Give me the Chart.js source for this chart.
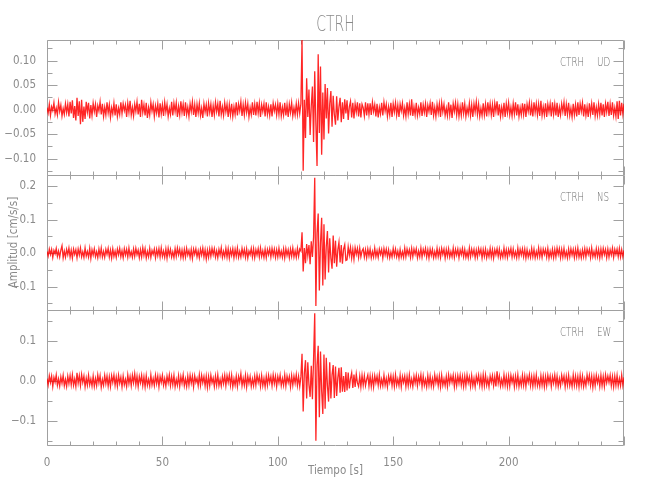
<!DOCTYPE html>
<html><head><meta charset="utf-8">
<script src="https://cdn.jsdelivr.net/npm/chart.js@4"></script>
<style>html,body{margin:0;padding:0;background:#fff;}canvas{display:block;}</style>
</head><body>
<canvas id="c" width="650" height="500"></canvas>
<script>
const station = 'CTRH';
const components = ['UD', 'NS', 'EW'];
const dt = 0.5; // sample interval [s]
const xLabelValues = [0, 50, 100, 150, 200];
const yLabelsUD = [-0.10, -0.05, 0.00, 0.05, 0.10];
const yLabelsNS = [-0.1, 0.0, 0.1, 0.2];
const yLabelsEW = [-0.1, 0.0, 0.1];

const udValues = [
.004,-.007,.011,-.012,.006,-.002,.014,-.009,.003,-.011,.015,-.004,.009,-.013,.002,-.010,.012,-.006,.011,-.014,
.016,-.008,.019,-.017,.007,-.022,.024,-.013,.017,-.030,.020,-.025,.006,-.019,.016,-.005,.014,-.018,.009,-.012,
.013,-.004,.011,-.015,.008,-.003,.016,-.010,.012,-.014,.005,-.011,.015,-.007,.010,-.016,.004,-.009,.013,-.012,
.011,-.014,.003,-.010,.015,-.008,.012,-.002,.010,-.015,.013,-.006,.018,-.011,.005,-.013,.011,-.004,.016,-.010,
.012,-.015,.020,-.006,.010,-.012,.014,-.017,.004,-.011,.015,-.003,.011,-.014,.008,-.007,.012,-.016,.013,-.009,
.010,-.013,.015,-.005,.011,-.014,.003,-.010,.016,-.012,.013,-.004,.014,-.015,.007,-.011,.017,-.006,.011,-.013,
.015,-.010,.005,-.014,.012,-.004,.016,-.011,.010,-.015,.011,-.007,.013,-.012,.003,-.017,.012,-.005,.010,-.014,
.013,-.006,.011,-.015,.008,-.011,.015,-.004,.012,-.014,.018,-.010,.006,-.012,.014,-.005,.011,-.015,.010,-.011,
.012,-.014,.006,-.010,.015,-.012,.011,-.003,.016,-.013,.010,-.011,.014,-.006,.012,-.015,.004,-.010,.015,-.011,
.011,-.012,.016,-.007,.013,-.015,.010,-.004,.012,-.014,.015,-.010,.006,-.012,.011,-.014,.013,-.003,.010,-.011,
.012,-.010,.015,-.013,.005,-.011,.014,-.012,.010,-.015,.011,-.006,.014,-.013,.004,-.011,.012,-.010,.013,-.008,
.012,.142,-.125,.020,-.058,.064,-.015,.041,-.052,.008,.047,-.066,.078,-.030,-.115,.113,-.048,.088,-.092,.035,
-.061,.052,-.018,.044,-.049,.012,.038,-.035,.028,-.010,-.031,.027,-.022,.006,.024,-.026,.015,-.019,.021,-.008,
.019,-.021,.006,.017,-.016,.014,-.018,.012,-.005,.015,-.014,.013,-.016,.011,.004,-.013,.015,-.012,.013,-.010,
.013,-.011,.015,-.004,.010,-.014,.012,-.016,.005,-.009,.014,-.012,.015,-.003,.011,-.014,.006,-.011,.014,-.015,
.012,-.005,.014,-.011,.009,-.015,.011,-.003,.013,-.012,.004,-.014,.015,-.009,.011,-.012,.021,-.013,.006,-.011,
.014,-.012,.004,-.009,.015,-.013,.010,-.006,.012,-.015,.009,-.004,.013,-.011,.016,-.012,.005,-.014,.011,-.007,
.012,-.015,.014,-.005,.011,-.012,.003,-.013,.015,-.011,.010,-.017,.012,-.004,.014,-.011,.011,-.014,.006,-.012,
.015,-.008,.012,-.014,.004,-.009,.013,-.012,.010,-.015,.012,-.005,.016,-.010,.011,-.014,.003,-.012,.013,-.011,
.011,-.014,.015,-.006,.012,-.011,.010,-.015,.013,-.004,.017,-.012,.011,-.014,.005,-.011,.014,-.015,.012,-.007,
.014,-.011,.005,-.013,.012,-.009,.015,-.012,.011,-.014,.004,-.011,.013,-.010,.012,-.015,.011,-.004,.014,-.012,
.010,-.014,.015,-.006,.012,-.011,.011,-.013,.018,-.012,.006,-.011,.013,-.015,.011,-.005,.012,-.014,.015,-.010,
.011,-.012,.014,-.015,.005,-.011,.012,-.004,.015,-.013,.011,-.010,.014,-.012,.003,-.015,.012,-.011,.010,-.014,
.015,-.011,.012,-.004,.014,-.014,.011,-.012,.006,-.015,.013,-.009,.012,-.011,.015,-.013,.005,-.012,.011,-.010,
.014,-.012,.011,-.015,.012,-.005,.016,-.013,.011,-.011,.015,-.012,.004,-.014,.017,-.019,.018,-.012,.014,-.009,
.012];

const nsValues = [
.005,-.009,.012,-.004,.011,-.013,.008,-.002,.014,-.010,.006,-.012,.009,.022,-.014,.006,-.012,.011,-.005,.015,
-.012,.009,-.015,.012,-.004,.010,-.014,.012,-.006,.015,-.011,.004,-.013,.015,-.009,.005,-.012,.014,-.016,.010,
-.006,.013,-.011,.004,-.014,.012,-.009,.015,-.012,.005,-.013,.011,-.004,.014,-.012,.009,-.015,.013,-.010,.006,
-.013,.012,-.005,.014,-.011,.007,-.014,.013,-.006,.011,-.012,.015,-.009,.004,-.013,.012,-.010,.014,-.005,.009,
-.014,.010,-.012,.016,-.007,.013,-.015,.005,-.011,.014,-.013,.008,-.004,.012,-.014,.011,-.008,.013,-.012,.015,
-.010,.006,-.013,.012,-.015,.014,-.007,.011,-.012,.004,-.014,.013,-.010,.015,-.005,.012,-.013,.009,-.014,.011,
-.012,.014,-.006,.008,-.013,.011,-.016,.012,-.004,.013,-.011,.007,-.014,.012,-.006,.015,-.012,.010,-.018,.009,
-.013,.012,-.010,.014,-.005,.013,-.012,.007,-.014,.011,-.006,.016,-.013,.005,-.011,.014,-.012,.013,-.015,.010,
-.007,.013,-.014,.011,-.010,.015,-.013,.005,-.012,.014,-.007,.011,-.013,.012,-.015,.006,-.005,.014,-.012,.013,
-.014,.010,-.006,.013,-.012,.015,-.010,.007,-.013,.012,-.014,.011,-.005,.013,-.012,.014,-.007,.012,-.013,.010,
-.012,.014,-.010,.006,-.013,.012,-.015,.013,-.007,.010,-.014,.012,-.010,.015,-.012,.007,-.013,.014,-.010,.012,
.006,.062,-.055,.015,-.030,.027,-.008,.024,-.033,.035,-.012,.048,.225,-.158,.060,.118,-.112,.030,.105,-.097,
.086,-.079,.020,.066,-.058,.044,-.015,-.047,.052,-.030,.037,-.041,.010,.033,-.028,.024,-.032,.012,.025,-.022,
-.020,.019,-.006,.017,-.015,.012,-.018,.016,-.004,.014,-.013,.015,-.011,.006,.013,-.012,.010,-.014,.012,-.009,
.012,-.014,.005,-.012,.015,-.011,.007,-.013,.012,-.004,.011,-.015,.013,-.006,.012,-.011,.010,-.014,.004,-.012,
.014,-.008,.012,-.011,.006,-.015,.011,-.012,.004,-.013,.015,-.011,.012,-.005,.010,-.013,.014,-.011,.012,-.004,
.013,-.014,.006,-.011,.015,-.012,.011,-.005,.014,-.012,.010,-.015,.012,-.007,.011,-.014,.005,-.012,.014,-.011,
.010,-.013,.014,-.004,.012,-.015,.011,-.010,.013,-.012,.005,-.011,.015,-.013,.011,-.006,.012,-.014,.010,-.005,
.014,-.011,.011,-.013,.004,-.014,.015,-.011,.012,-.006,.011,-.014,.009,-.012,.013,-.004,.012,-.015,.011,-.010,
.012,-.014,.006,-.011,.014,-.012,.011,-.015,.010,-.005,.013,-.010,.012,-.014,.004,-.012,.015,-.011,.010,-.013,
.011,-.005,.014,-.012,.012,-.011,.004,-.014,.015,-.012,.011,-.006,.013,-.011,.012,-.015,.010,-.012,.005,-.013,
.014,-.011,.012,-.014,.005,-.012,.015,-.011,.011,-.013,.012,-.004,.011,-.012,.014,-.015,.006,-.011,.012,-.014,
.011,-.012,.015,-.005,.013,-.014,.011,-.012,.014,-.012,.004,-.015,.012,-.011,.013,-.006,.011,-.014,.012,-.011,
.015,-.012,.006,-.014,.010,-.011,.013,-.012,.012,-.004,.011,-.014,.015,-.011,.005,-.012,.013,-.011,.011,-.015,
.012,-.011,.014,-.005,.011,-.014,.012,-.012,.010,-.006,.015,-.013,.011,-.004,.012,-.011,.014,-.012,.010,-.011,
.008];

const ewValues = [
.006,-.010,.013,-.004,.012,-.014,.009,-.003,.015,-.011,.005,-.013,.010,-.006,.014,-.012,.004,-.014,.012,-.007,
.013,-.010,.015,-.011,.005,-.014,.020,-.006,.013,-.012,.016,-.004,.012,-.015,.007,-.011,.014,-.010,.005,-.013,
.012,-.014,.006,-.012,.015,-.005,.013,-.016,.004,-.011,.014,-.007,.012,-.013,.010,-.014,.013,-.004,.015,-.011,
.010,-.013,.014,-.006,.009,-.015,.012,-.010,.004,-.014,.015,-.007,.011,-.012,.014,-.005,.018,-.010,.012,-.014,
.011,-.005,.014,-.012,.010,-.015,.013,-.011,.004,-.013,.015,-.010,.006,-.012,.014,-.007,.012,-.015,.011,-.004,
.014,-.011,.006,-.013,.012,-.005,.015,-.012,.011,-.010,.014,-.015,.004,-.011,.013,-.014,.011,-.006,.015,-.012,
.005,-.014,.012,-.011,.014,-.006,.012,-.015,.013,-.004,.007,-.012,.015,-.011,.014,-.005,.011,-.013,.012,-.016,
.011,-.012,.014,-.005,.007,-.014,.012,-.011,.015,-.012,.004,-.013,.011,-.007,.014,-.012,.013,-.004,.015,-.011,
.014,-.015,.005,-.011,.012,-.014,.011,-.004,.018,-.012,.007,-.011,.014,-.015,.012,-.006,.011,-.014,.005,-.012,
.012,-.011,.015,-.004,.011,-.014,.013,-.012,.006,-.015,.012,-.011,.014,-.005,.011,-.012,.015,-.007,.012,-.014,
.011,-.005,.014,-.012,.006,-.011,.015,-.013,.012,-.004,.011,-.015,.013,-.011,.012,-.006,.016,-.012,.011,-.014,
.010,.068,-.077,.020,.052,-.044,.047,-.010,-.040,.038,-.046,.055,.170,-.150,.040,.088,-.091,.074,-.025,-.083,
.066,-.070,.058,-.012,-.052,.047,-.044,.015,.040,-.043,.036,-.038,.008,.033,-.030,.034,-.027,.012,-.028,.022,
-.024,.021,-.019,.006,.020,-.018,.016,-.015,.017,-.005,-.014,.012,-.015,.014,-.011,.013,-.012,.004,.015,-.013,
.012,-.014,.011,-.015,.013,-.005,.012,-.011,.015,-.013,.004,-.012,.014,-.011,.006,-.015,.012,-.004,.013,-.012,
.011,-.014,.015,-.011,.005,-.012,.014,-.015,.011,-.004,.012,-.014,.011,-.012,.015,-.011,.005,-.014,.012,-.006,
.014,-.012,.011,-.005,.015,-.014,.012,-.011,.004,-.015,.013,-.011,.012,-.013,.006,-.014,.015,-.005,.011,-.012,
.012,-.015,.014,-.011,.005,-.012,.011,-.014,.015,-.006,.012,-.004,.014,-.015,.011,-.012,.013,-.006,.014,-.011,
.011,-.014,.012,-.012,.015,-.005,.010,-.014,.013,-.012,.006,-.015,.012,-.004,.014,-.011,.011,-.014,.015,-.012,
.014,-.011,.005,-.015,.012,-.004,.013,-.012,.011,-.014,.024,-.006,.012,-.013,.004,-.012,.015,-.011,.011,-.014,
.012,-.013,.014,-.004,.011,-.015,.012,-.011,.015,-.014,.005,-.012,.014,-.011,.012,-.014,.011,-.004,.015,-.012,
.011,-.014,.012,-.011,.015,-.012,.004,-.014,.013,-.011,.012,-.015,.011,-.012,.014,-.005,.012,-.014,.011,-.006,
.015,-.011,.012,-.014,.006,-.012,.014,-.004,.012,-.015,.011,-.011,.014,-.012,.005,-.014,.015,-.011,.012,-.012,
.011,-.015,.014,-.011,.012,-.014,.005,-.012,.015,-.004,.014,-.011,.012,-.016,.011,-.012,.014,-.005,.010,-.014,
.014,-.012,.011,-.014,.015,-.005,.012,-.004,.014,-.012,.011,-.015,.012,-.011,.014,-.013,.006,-.012,.015,-.011,
.009];

const FONT = "'DejaVu Sans Condensed','Liberation Sans Narrow','DejaVu Sans',sans-serif";
const LIGHT = "'DejaVu Sans','Liberation Sans',sans-serif";
const TXT = '#8a8a8a';
const LBL = '#6e6e6e';
const AX = '#a0a0a0';
const panelIds = ['y1', 'y2', 'y3'];
const toPoints = vals => vals.map((v, i) => ({x: i * dt, y: v}));
const minus = s => s.replace('-', '\u2212');

function condensedText(ctx, text, x, y, sx, align) {
  ctx.save();
  ctx.scale(sx, 1);
  ctx.textAlign = align;
  ctx.fillText(text, x / sx, y);
  ctx.restore();
}

const decor = {
  id: 'decor',
  beforeDatasetsDraw(chart) {
    const {ctx, chartArea: ca, scales} = chart;
    const xs = scales.x;
    ctx.save();
    ctx.strokeStyle = AX;
    ctx.lineWidth = 1;
    const L = Math.round(ca.left) + 0.5, R = Math.round(ca.right) - 0.5;
    ctx.beginPath();
    panelIds.forEach(id => {
      const s = scales[id];
      const T = Math.round(s.top) + 0.5, B = Math.round(s.bottom) + 0.5;
      ctx.moveTo(L, T); ctx.lineTo(R, T); ctx.lineTo(R, B); ctx.lineTo(L, B); ctx.lineTo(L, T);
      xs.ticks.forEach(t => {
        const px = Math.round(xs.getPixelForValue(t.value)) + 0.5;
        const len = t.value % 50 === 0 ? 9 : 4;
        ctx.moveTo(px, T); ctx.lineTo(px, T + len);
        ctx.moveTo(px, B); ctx.lineTo(px, B - len);
      });
      s.ticks.forEach(t => {
        const py = Math.round(s.getPixelForValue(t.value)) + 0.5;
        ctx.moveTo(L, py); ctx.lineTo(L + 10, py);
        ctx.moveTo(R, py); ctx.lineTo(R - 10, py);
      });
      const half = (s.ticks[1].value - s.ticks[0].value) / 2;
      for (let k = Math.ceil(s.min / half); k * half <= s.max; k++) {
        if (k % 2 === 0) continue;
        const py = Math.round(s.getPixelForValue(k * half)) + 0.5;
        ctx.moveTo(L, py); ctx.lineTo(L + 5, py);
        ctx.moveTo(R, py); ctx.lineTo(R - 5, py);
      }
    });
    ctx.stroke();
    ctx.restore();
  },
  afterDraw(chart) {
    const {ctx, chartArea: ca, scales} = chart;
    ctx.save();
    ctx.textBaseline = 'alphabetic';
    ctx.fillStyle = LBL;
    ctx.font = '200 12.5px ' + LIGHT;
    panelIds.forEach((id, k) => {
      const s = scales[id];
      const y = s.top + 25.5;
      condensedText(ctx, station, ca.right - 64, y, 0.7, 'left');
      condensedText(ctx, components[k], ca.right - 27, y, 0.7, 'left');
    });
    ctx.fillStyle = TXT;
    ctx.font = '200 20.5px ' + LIGHT;
    condensedText(ctx, station, (ca.left + ca.right) / 2, 31, 0.68, 'center');
    ctx.restore();
  }
};

const tickFont = {family: FONT, size: 11.5};
function yAxis(min, max, step, labels, digits, weight, title) {
  return {
    type: 'linear', position: 'left', stack: 'panels', stackWeight: 1, weight: weight,
    min: min, max: max,
    grid: {display: false}, border: {display: false},
    ticks: {
      stepSize: step, includeBounds: false, color: TXT, font: tickFont, padding: 3,
      callback: v => labels.some(l => Math.abs(l - v) < 1e-9) ? minus(v.toFixed(digits)) : ''
    },
    title: title ? {display: true, text: title, color: TXT, font: tickFont, padding: {top: 7, bottom: 0}} : {display: false},
    afterFit: s => { s.width = 47; }
  };
}

const lineStyle = {borderColor: 'rgba(255,0,0,0.85)', borderWidth: 1.3, pointRadius: 0, tension: 0, fill: false};

new Chart(document.getElementById('c'), {
  type: 'line',
  data: {
    datasets: [
      Object.assign({label: components[0], data: toPoints(udValues), yAxisID: 'y1', xAxisID: 'x'}, lineStyle),
      Object.assign({label: components[1], data: toPoints(nsValues), yAxisID: 'y2', xAxisID: 'x'}, lineStyle),
      Object.assign({label: components[2], data: toPoints(ewValues), yAxisID: 'y3', xAxisID: 'x'}, lineStyle)
    ]
  },
  options: {
    responsive: false,
    animation: false,
    devicePixelRatio: 1,
    layout: {padding: {top: 40, right: 26, bottom: 0, left: 0}},
    plugins: {legend: {display: false}, tooltip: {enabled: false}},
    scales: {
      x: {
        type: 'linear', position: 'bottom', min: 0, max: 250,
        grid: {display: false}, border: {display: false},
        ticks: {
          stepSize: 10, autoSkip: false, maxRotation: 0, includeBounds: false,
          color: TXT, font: tickFont, padding: 3,
          callback: v => xLabelValues.includes(v) ? String(v) : ''
        },
        title: {display: true, text: 'Tiempo [s]', color: TXT, font: tickFont, padding: {top: 0, bottom: 22}},
        afterFit: s => { s.height = 55; }
      },
      y1: yAxis(-0.1335, 0.142, 0.05, yLabelsUD, 2, 3, null),
      y2: yAxis(-0.170, 0.233, 0.1, yLabelsNS, 1, 2, 'Amplitud [cm/s/s]'),
      y3: yAxis(-0.161, 0.178, 0.1, yLabelsEW, 1, 1, null)
    }
  },
  plugins: [decor]
});
</script>
</body></html>
